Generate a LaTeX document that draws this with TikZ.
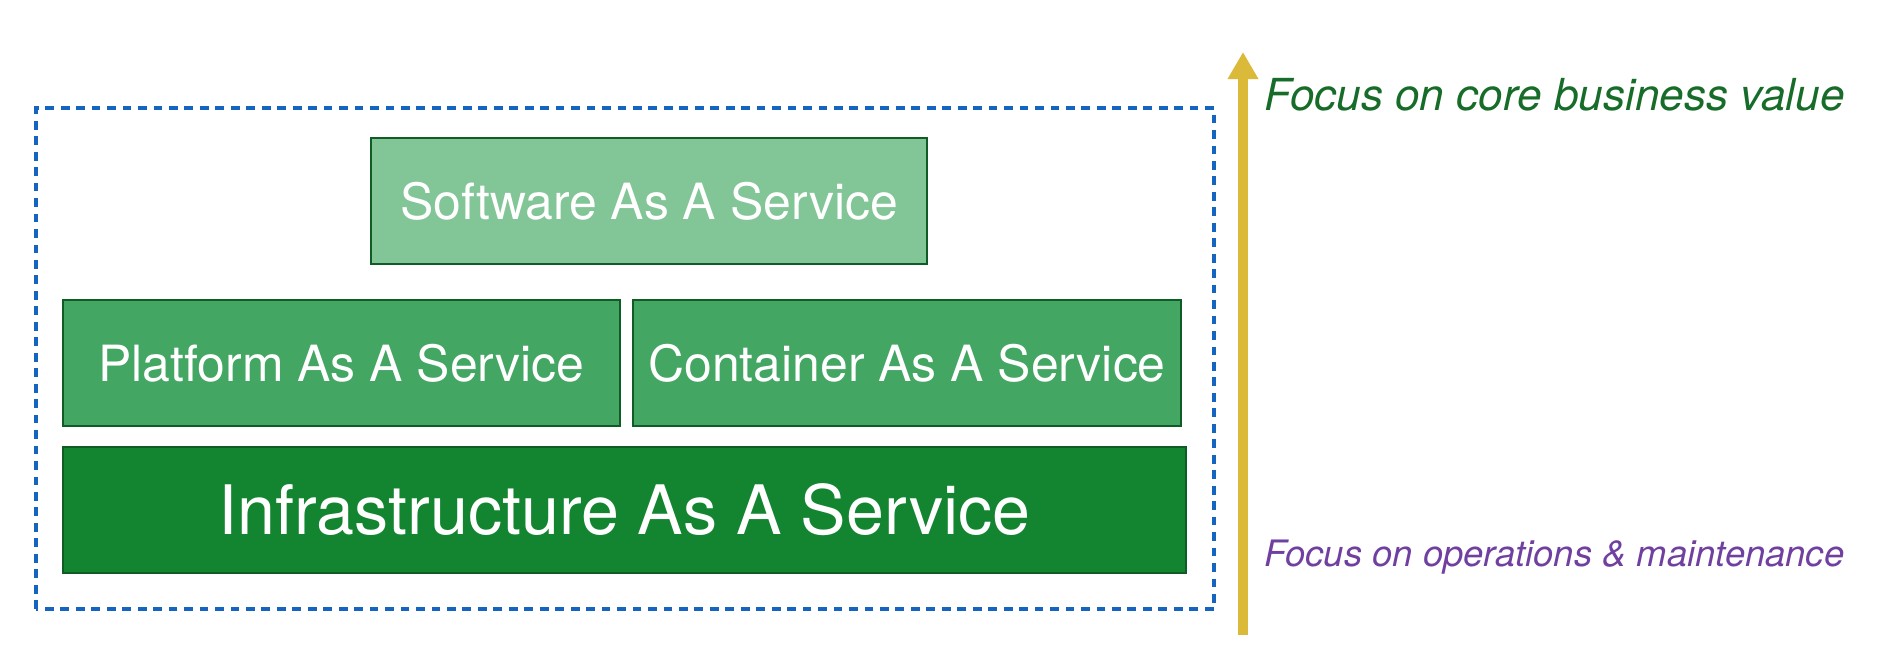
\documentclass[tikz,border=0pt]{standalone}
\usepackage{fontspec}
\setmainfont{TeX Gyre Heros}
\usetikzlibrary{arrows.meta}

\definecolor{saasgreen}{RGB}{130,197,150}
\definecolor{midgreen}{RGB}{67,166,99}
\definecolor{iaasgreen}{RGB}{19,133,48}
\definecolor{edgegreen}{RGB}{15,92,37}
\definecolor{scopeblue}{RGB}{21,101,192}
\definecolor{arrowgold}{RGB}{219,186,58}
\definecolor{coregreen}{RGB}{22,108,40}
\definecolor{opspurple}{RGB}{112,64,160}

\begin{document}
\begin{tikzpicture}[
    layer/.style={draw=edgegreen, line width=1.1pt, text=white, inner sep=0pt,
        minimum height=2.52cm, font=\fontsize{28.4}{34}\selectfont},
    focus/.style={anchor=base west, inner sep=0pt}
]
    \useasboundingbox (0,0) rectangle (37.76,13.04);

    % Scope of the stack
    \draw[scopeblue, line width=2.2pt, dash pattern=on 5pt off 3.8pt] (0.72,0.86) rectangle (24.28,10.88);

    % Service layers
    \node[layer, fill=saasgreen, minimum width=11.12cm] (saas) at (12.98,9.02) {Software As A Service};
    \node[layer, fill=midgreen, minimum width=11.14cm] (paas) at (6.83,5.78) {Platform As A Service};
    \node[layer, fill=midgreen, minimum width=10.96cm] (caas) at (18.14,5.78) {Container As A Service};
    \node[layer, fill=iaasgreen, minimum width=22.46cm, font=\fontsize{38.8}{46}\selectfont]
        (iaas) at (12.49,2.84) {Infrastructure As A Service};

    % Focus arrow and its ends
    \coordinate (low) at (24.86,0.34);
    \coordinate (high) at (24.86,12.0);
    \draw[-{Triangle[width=16.5pt,length=15.4pt]}, arrowgold, line width=5.5pt] (low) -- (high);
    \node[focus, text=coregreen, font=\fontsize{25.1}{30}\selectfont\itshape]
        (core) at (25.28,10.82) {Focus on core business value};
    \node[focus, text=opspurple, font=\fontsize{20.7}{25}\selectfont\itshape]
        (ops) at (25.28,1.72) {Focus on operations \& maintenance};
\end{tikzpicture}
\end{document}
